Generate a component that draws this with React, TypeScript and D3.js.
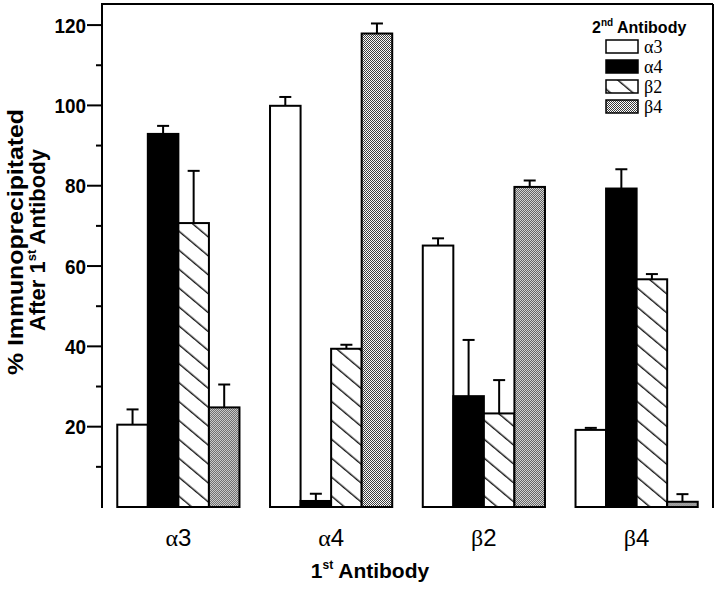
import React from 'react';
import * as d3 from 'd3';

const firstAntibodies = ['α3', 'α4', 'β2', 'β4'];
const secondAntibodies = ['α3', 'α4', 'β2', 'β4'];
// values per 2nd antibody, across the 1st antibody groups
const seriesA3 = [20.5, 99.9, 65.1, 19.2];
const seriesA4 = [92.9, 1.5, 27.6, 79.3];
const seriesB2 = [70.7, 39.4, 23.3, 56.7];
const seriesB4 = [24.8, 117.9, 79.7, 1.3];
const errA3 = [3.8, 2.2, 1.8, 0.5];
const errA4 = [2.0, 1.8, 14.0, 4.8];
const errB2 = [13.0, 1.0, 8.3, 1.3];
const errB4 = [5.7, 2.5, 1.6, 1.9];
const majorTicks = [20, 40, 60, 80, 100, 120];
const minorTicks = [10, 30, 50, 70, 90, 110];

const seriesValues = [seriesA3, seriesA4, seriesB2, seriesB4];
const seriesErrors = [errA3, errA4, errB2, errB4];
const fills = ['#ffffff', '#000000', 'url(#hatch)', 'url(#dots)'];

const W = 720, H = 593;
const left = 102, right = 713, top = 4, bottom = 507;

export default function App() {
  const y = d3.scaleLinear().domain([0, 125]).range([bottom, top + 1]);
  const x0 = d3.scaleBand<string>().domain(firstAntibodies).range([left, right]).paddingInner(0.2).paddingOuter(0.1);
  const x1 = d3.scaleBand<string>().domain(secondAntibodies).range([0, x0.bandwidth()]).padding(0);
  const bw = x1.bandwidth();

  const sans = "'Liberation Sans', Arial, Helvetica, sans-serif";
  const serif = "'Liberation Serif', 'Times New Roman', serif";

  return (
    <svg width={W} height={H} style={{ position: 'absolute', left: 0, top: 0, background: '#fff' }}>
      <defs>
        <pattern id="hatch" patternUnits="userSpaceOnUse" width={12} height={14.5} patternTransform="rotate(40)">
          <rect width={12} height={14.5} fill="#fff" />
          <line x1={0} y1={7} x2={12} y2={7} stroke="#000" strokeWidth={1.3} />
        </pattern>
        <pattern id="dots" patternUnits="userSpaceOnUse" width={2} height={2}>
          <rect width={2} height={2} fill="#fff" />
          <rect x={0} y={0} width={1} height={1} fill="#3a3a3a" />
          <rect x={1} y={1} width={1} height={1} fill="#3a3a3a" />
        </pattern>
      </defs>

      {/* frame */}
      <line x1={left} y1={top} x2={right} y2={top} stroke="#000" strokeWidth={2} />
      <line x1={right} y1={top} x2={right} y2={bottom + 1} stroke="#000" strokeWidth={2} />
      <line x1={left} y1={top - 1} x2={left} y2={bottom + 1} stroke="#000" strokeWidth={2} />

      {/* ticks */}
      {majorTicks.map(t => (
        <g key={'M' + t}>
          <line x1={left - 15} x2={left} y1={y(t)} y2={y(t)} stroke="#000" strokeWidth={2} />
          <text x={left - 16} y={y(t)} dy="0.37em" textAnchor="end" fontFamily={sans} fontWeight="bold" fontSize={21} textLength={String(t).length * 10.5} lengthAdjust="spacingAndGlyphs">{t}</text>
        </g>
      ))}
      {minorTicks.map(t => (
        <line key={'m' + t} x1={left - 6} x2={left} y1={y(t)} y2={y(t)} stroke="#000" strokeWidth={2} />
      ))}

      {/* bars */}
      {firstAntibodies.map((g, gi) => (
        <g key={g} transform={`translate(${x0(g)},0)`}>
          {secondAntibodies.map((s, si) => {
            const v = seriesValues[si][gi];
            const e = seriesErrors[si][gi];
            const bx = x1(s)!;
            const cx = bx + bw / 2;
            return (
              <g key={s}>
                <line x1={cx} x2={cx} y1={y(v)} y2={y(v + e)} stroke="#000" strokeWidth={2} />
                <line x1={cx - 6} x2={cx + 6} y1={y(v + e)} y2={y(v + e)} stroke="#000" strokeWidth={2} />
                <rect x={bx} y={y(v)} width={bw} height={bottom - y(v)} fill={fills[si]} stroke="#000" strokeWidth={2} />
              </g>
            );
          })}
        </g>
      ))}

      {/* x labels */}
      {firstAntibodies.map(g => (
        <text key={g} x={x0(g)! + x0.bandwidth() / 2} y={546} textAnchor="middle" fontSize={24}>
          <tspan fontFamily={serif}>{g.slice(0, 1)}</tspan>
          <tspan fontFamily={sans}>{g.slice(1)}</tspan>
        </text>
      ))}
      <text x={370} y={578} textAnchor="middle" fontFamily={sans} fontWeight="bold" fontSize={21}>
        1<tspan fontSize={12} dy={-9}>st</tspan><tspan dy={9}> Antibody</tspan>
      </text>

      {/* y title */}
      <text transform="translate(23,242) rotate(-90)" textAnchor="middle" fontFamily={sans} fontWeight="bold" fontSize={22} textLength={266} lengthAdjust="spacingAndGlyphs">
        % Immunoprecipitated
      </text>
      <text transform="translate(45,240) rotate(-90)" textAnchor="middle" fontFamily={sans} fontWeight="bold" fontSize={22}>
        After 1<tspan fontSize={13} dy={-9}>st</tspan><tspan dy={9}> Antibody</tspan>
      </text>

      {/* legend */}
      <text x={592} y={33} fontFamily={sans} fontWeight="bold" fontSize={16}>
        2<tspan fontSize={10} dy={-7}>nd</tspan><tspan dy={7}> Antibody</tspan>
      </text>
      {secondAntibodies.map((s, si) => (
        <g key={s} transform={`translate(606,${40 + si * 20})`}>
          <rect x={0} y={0} width={32} height={13} fill={fills[si]} stroke="#000" strokeWidth={1.5} />
          <text x={38} y={13} fontFamily={serif} fontSize={18}>{s}</text>
        </g>
      ))}
    </svg>
  );
}
